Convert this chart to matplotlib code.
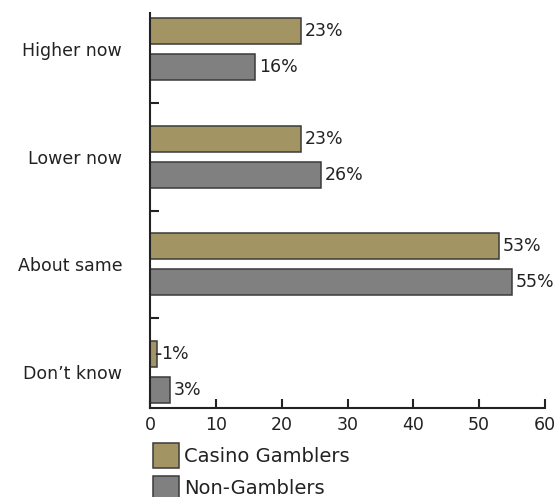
import matplotlib
matplotlib.use("Agg")
import matplotlib.pyplot as plt
import numpy as np
from matplotlib.patches import Rectangle

categories = ["Higher now", "Lower now", "About same", "Don\u2019t know"]
casino = [23, 23, 53, 1]
non_gamblers = [16, 26, 55, 3]
series_names = ["Casino Gamblers", "Non-Gamblers"]
xticks = [0, 10, 20, 30, 40, 50, 60]

plt.rcParams['font.family'] = ['DejaVu Sans']
W, H = 558, 497
fig = plt.figure(figsize=(W/100, H/100), dpi=100)
ax = fig.add_axes([150/W, 1-408/H, 395/W, 395/H])

txt = "#222222"
c_col = "#a39464"
n_col = "#808080"
edge = "#3a3a3a"
fs = 12.5
pos = np.arange(len(categories))
h = 0.24
off = 0.167
ax.barh(pos - off, casino, height=h, color=c_col, edgecolor=edge, linewidth=1.1)
ax.barh(pos + off, non_gamblers, height=h, color=n_col, edgecolor=edge, linewidth=1.1)

for i, (c, n) in enumerate(zip(casino, non_gamblers)):
    if c < 2:
        ax.annotate("", xy=(c, i - off), xytext=(3, 0), textcoords="offset points",
                    arrowprops=dict(arrowstyle="-", color=txt, lw=1.2, shrinkA=0, shrinkB=0))
        ax.annotate(f"{c}%", xy=(c, i - off), xytext=(3.2, 0), textcoords="offset points",
                    va="center", ha="left", fontsize=fs, color=txt)
    else:
        ax.annotate(f"{c}%", xy=(c, i - off), xytext=(2.5, 0), textcoords="offset points",
                    va="center", ha="left", fontsize=fs, color=txt)
    ax.annotate(f"{n}%", xy=(n, i + off), xytext=(2.5, 0), textcoords="offset points",
                va="center", ha="left", fontsize=fs, color=txt)

ax.set_xlim(0, 60)
ax.set_ylim(3.333, -0.333)
ax.set_xticks(xticks)
ax.set_xticklabels([str(t) for t in xticks], fontsize=fs, color=txt)
ax.set_yticks(pos)
ax.set_yticklabels(categories, fontsize=fs, color=txt)
ax.set_yticks([0.5, 1.5, 2.5], minor=True)
ax.tick_params(axis='y', which='major', length=0, pad=20)
ax.tick_params(axis='y', which='minor', direction='in', length=6.5, width=1.5, color=txt)
ax.tick_params(axis='x', direction='in', length=6.5, width=1.5, color=txt, pad=6)
for s in ["top", "right"]:
    ax.spines[s].set_visible(False)
for s in ["left", "bottom"]:
    ax.spines[s].set_linewidth(1.5)
    ax.spines[s].set_color(txt)

# legend drawn in figure pixel coordinates
leg_cols = [c_col, n_col]
for k, (name, col) in enumerate(zip(series_names, leg_cols)):
    top = 443 + 33 * k
    fig.patches.append(Rectangle((153/W, 1-(top+25)/H), 26/W, 25/H, transform=fig.transFigure,
                                 facecolor=col, edgecolor=edge, linewidth=1.1))
    fig.text(184/W, 1-(top+13)/H, name, fontsize=14, color=txt, va="center", ha="left")

fig.savefig("out.png", dpi=100)
